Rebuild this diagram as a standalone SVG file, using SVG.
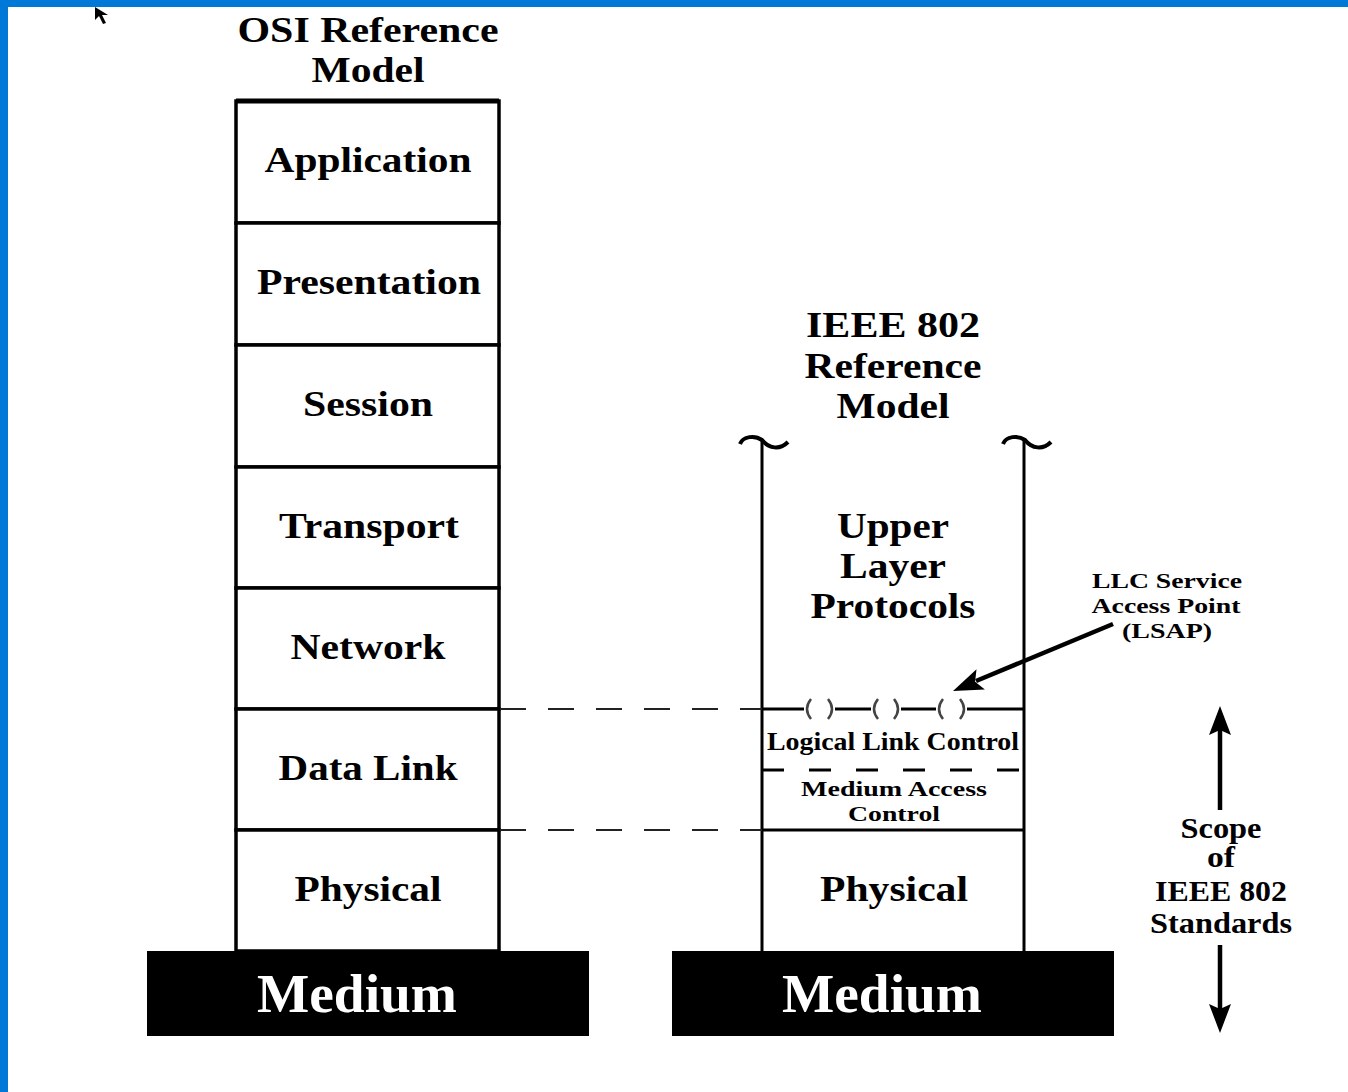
<svg xmlns="http://www.w3.org/2000/svg" width="1348" height="1092" viewBox="0 0 1348 1092">
<style>
text{font-family:"Liberation Serif","Times New Roman",serif;font-weight:bold;fill:#000;text-anchor:middle}
.l{font-size:36px}
.m{font-size:54px;fill:#fff}
.s{font-size:25px}
.xs{font-size:22px}
.sc{font-size:29px}
.box{fill:#fff;stroke:#000;stroke-width:3.5}
.ln{stroke:#000;stroke-width:3;fill:none}
.dash{stroke:#222;stroke-width:2;stroke-dasharray:26 22;fill:none}
.med{fill:#000}
.par{fill:none;stroke:#444;stroke-width:2.5}
.arr{stroke:#000;stroke-width:4.5;fill:none}
.head{fill:#000}
</style>
<rect x="0" y="0" width="1348" height="1092" fill="#fff"/>
<rect x="0" y="0" width="1348" height="7" fill="#0078D7"/>
<rect x="0" y="0" width="8" height="1092" fill="#0078D7"/>
<path d="M95,7 L95,20 L99,16 L103,24 L106,23 L102,15 L108,15 Z" fill="#000"/>

<g id="osi-title">
<text class="l" x="368" y="42" textLength="261" lengthAdjust="spacingAndGlyphs">OSI Reference</text>
<text class="l" x="368" y="82" textLength="113" lengthAdjust="spacingAndGlyphs">Model</text>
</g>
<g id="osi-application"><rect class="box" x="236" y="101" width="263" height="122"/><line x1="236" y1="101" x2="499" y2="101" stroke="#000" stroke-width="5"/><text class="l" x="368" y="172" textLength="207" lengthAdjust="spacingAndGlyphs">Application</text></g>
<g id="osi-presentation"><rect class="box" x="236" y="223" width="263" height="122"/><text class="l" x="369" y="294" textLength="224" lengthAdjust="spacingAndGlyphs">Presentation</text></g>
<g id="osi-session"><rect class="box" x="236" y="345" width="263" height="122"/><text class="l" x="368" y="416" textLength="130" lengthAdjust="spacingAndGlyphs">Session</text></g>
<g id="osi-transport"><rect class="box" x="236" y="467" width="263" height="121"/><text class="l" x="369" y="538" textLength="180" lengthAdjust="spacingAndGlyphs">Transport</text></g>
<g id="osi-network"><rect class="box" x="236" y="588" width="263" height="121"/><text class="l" x="368" y="659" textLength="155" lengthAdjust="spacingAndGlyphs">Network</text></g>
<g id="osi-datalink"><rect class="box" x="236" y="709" width="263" height="121"/><text class="l" x="368" y="780" textLength="179" lengthAdjust="spacingAndGlyphs">Data Link</text></g>
<g id="osi-physical"><rect class="box" x="236" y="830" width="263" height="121"/><text class="l" x="368" y="901" textLength="147" lengthAdjust="spacingAndGlyphs">Physical</text></g>
<g id="osi-medium"><rect class="med" x="147" y="951" width="442" height="85"/><text class="m" x="357" y="1012" textLength="200" lengthAdjust="spacingAndGlyphs">Medium</text></g>

<g id="ieee-title">
<text class="l" x="893" y="337" textLength="174" lengthAdjust="spacingAndGlyphs">IEEE 802</text>
<text class="l" x="893" y="378" textLength="177" lengthAdjust="spacingAndGlyphs">Reference</text>
<text class="l" x="893" y="418" textLength="113" lengthAdjust="spacingAndGlyphs">Model</text>
</g>
<g id="ieee-frame">
<line class="ln" x1="762" y1="440" x2="762" y2="951"/>
<line class="ln" x1="1024" y1="440" x2="1024" y2="951"/>
<path d="M740,444 C743,436 755,435 762,440 C769,449 780,450 788,442" fill="none" stroke="#000" stroke-width="4"/>
<path d="M1003,444 C1006,436 1018,435 1025,440 C1032,449 1043,450 1051,442" fill="none" stroke="#000" stroke-width="4"/>
</g>
<g id="ieee-upper"><text class="l" x="893" y="538" textLength="112" lengthAdjust="spacingAndGlyphs">Upper</text><text class="l" x="893" y="578" textLength="106" lengthAdjust="spacingAndGlyphs">Layer</text><text class="l" x="893" y="618" textLength="165" lengthAdjust="spacingAndGlyphs">Protocols</text></g>
<g id="ieee-lsap">
<path class="ln" d="M762,709 H804 M835,709 H871 M901,709 H936 M967,709 H1024"/>
<path class="par" d="M811,699 Q803,709 811,719 M828,699 Q836,709 828,719"/>
<path class="par" d="M878,699 Q870,709 878,719 M894,699 Q902,709 894,719"/>
<path class="par" d="M943,699 Q935,709 943,719 M960,699 Q968,709 960,719"/>
</g>
<g id="ieee-llc"><text class="s" x="893" y="750" textLength="252" lengthAdjust="spacingAndGlyphs">Logical Link Control</text></g>
<g id="ieee-mac"><line x1="762" y1="770" x2="1024" y2="770" stroke="#000" stroke-width="3" stroke-dasharray="22 25"/><text class="xs" x="894" y="796" textLength="186" lengthAdjust="spacingAndGlyphs">Medium Access</text><text class="xs" x="894" y="821" textLength="92" lengthAdjust="spacingAndGlyphs">Control</text></g>
<g id="ieee-physical"><line class="ln" x1="762" y1="830" x2="1024" y2="830"/><text class="l" x="894" y="901" textLength="148" lengthAdjust="spacingAndGlyphs">Physical</text></g>
<g id="ieee-medium"><rect class="med" x="672" y="951" width="442" height="85"/><text class="m" x="882" y="1012" textLength="200" lengthAdjust="spacingAndGlyphs">Medium</text></g>

<g id="lsap-label"><text class="xs" x="1167" y="588" textLength="150" lengthAdjust="spacingAndGlyphs">LLC Service</text><text class="xs" x="1166" y="613" textLength="149" lengthAdjust="spacingAndGlyphs">Access Point</text><text class="xs" x="1167" y="638" textLength="90" lengthAdjust="spacingAndGlyphs">(LSAP)</text></g>
<g id="scope-label"><text class="sc" x="1221" y="838" textLength="81" lengthAdjust="spacingAndGlyphs">Scope</text><text class="sc" x="1221" y="867" textLength="28" lengthAdjust="spacingAndGlyphs">of</text><text class="sc" x="1221" y="901" textLength="132" lengthAdjust="spacingAndGlyphs">IEEE 802</text><text class="sc" x="1221" y="933" textLength="142" lengthAdjust="spacingAndGlyphs">Standards</text></g>

<g id="connectors">
<line class="dash" x1="500" y1="709" x2="762" y2="709"/>
<line class="dash" x1="500" y1="830" x2="762" y2="830"/>
<line class="arr" x1="1113" y1="624" x2="976" y2="681"/>
<polygon class="head" points="953,691 984.9,689.5 975.1,681.7 976.5,669.3"/>
<line class="arr" x1="1220" y1="810" x2="1220" y2="728"/>
<polygon class="head" points="1220,706 1231,735 1220,730 1209,735"/>
<line class="arr" x1="1220" y1="945" x2="1220" y2="1010"/>
<polygon class="head" points="1220,1033 1231,1004 1220,1009 1209,1004"/>
</g>
</svg>
